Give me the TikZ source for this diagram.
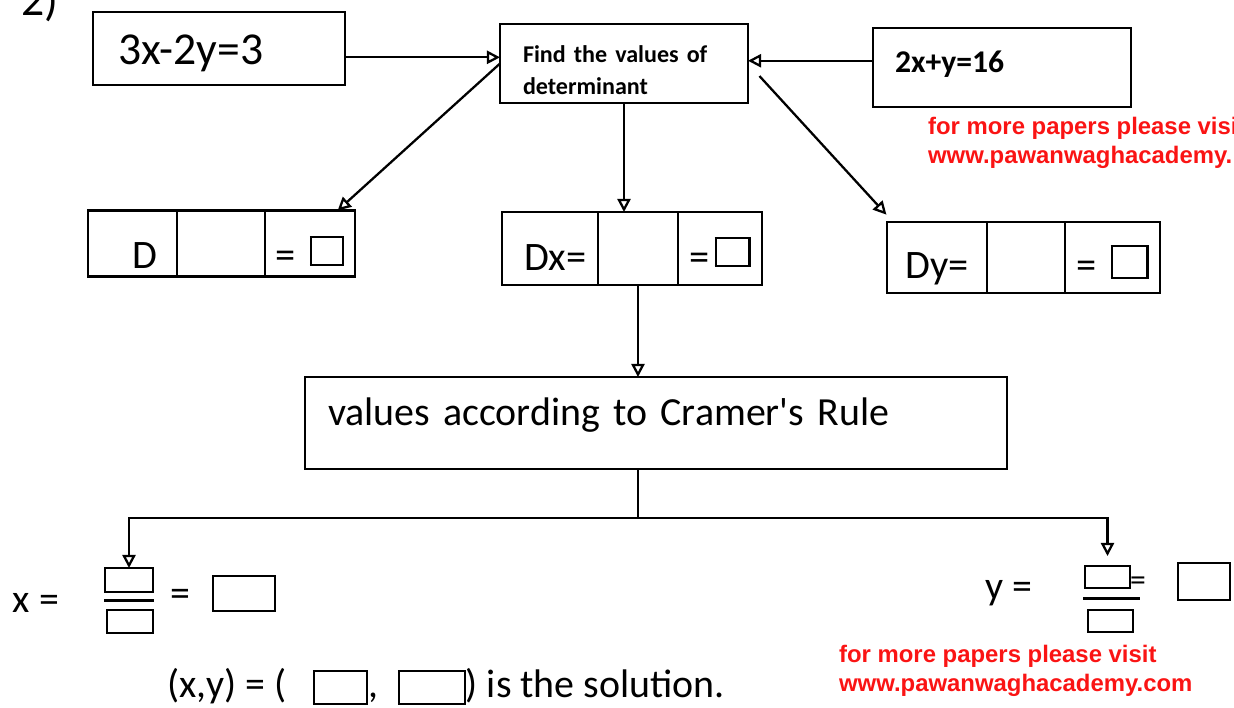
\documentclass[tikz,border=0pt]{standalone}
\usepackage{fontspec}
\setmainfont{Carlito}
\newfontfamily\adfont{Liberation Sans}
\usetikzlibrary{arrows.meta,positioning}
\definecolor{adred}{RGB}{250,20,20}
\newcommand{\ansbox}[2]{{\setlength{\fboxsep}{0pt}\setlength{\fboxrule}{1.3pt}\fbox{\rule{0pt}{#2}\rule{#1}{0pt}}}}

\begin{document}
\begin{tikzpicture}[x=0.02cm,y=-0.02cm,>={Triangle[open,length=7.5pt,width=7.5pt]},line width=1.3pt]
\tikzset{box/.style = {draw,line width=1.5pt,inner ysep=2pt,outer sep=0pt},
         cell/.style = {box,minimum height=#1,text depth=0pt,
                        font=\fontsize{23}{27}\selectfont},
         slot/.style = {box,inner sep=0pt},
         big/.style = {font=\fontsize{22.7}{27}\selectfont},
         ad/.style = {anchor=west,align=left,inner sep=0pt,text=adred,font=\adfont\bfseries\fontsize{13.6}{16.4}\selectfont}}
\useasboundingbox (0,0) rectangle (1234,707);

\node[font=\fontsize{26}{30}\selectfont] (qnum) at (40,2) {2)};

\node[box,minimum width=5.04cm,minimum height=1.46cm,text width=4.04cm,inner xsep=0.5cm,
      text height=18.5pt,text depth=0pt,font=\fontsize{26}{30}\selectfont] (eqA) at (219,48.5) {3x-2y=3};
\node[box,minimum width=4.96cm,minimum height=1.58cm,text width=4.04cm,inner xsep=0.46cm,align=left,
      font=\bfseries\fontsize{13.7}{18}\selectfont] (find) at (624,63.5) {\rule{0pt}{17pt}Find the values of\\determinant};
\node[box,minimum width=5.16cm,minimum height=1.58cm,text width=4.28cm,inner xsep=0.44cm,
      text height=10pt,text depth=4.6pt,font=\bfseries\fontsize{18}{22}\selectfont] (eqB) at (1002,67.5) {2x+y=16};

\node[cell=1.32cm,text height=28pt,minimum width=1.78cm] (dA) at (132.5,243.5) {\hspace{14pt}D};
\node[cell=1.32cm,text height=28pt,minimum width=1.76cm,right=0pt of dA] (dB) {};
\node[cell=1.32cm,text height=28pt,minimum width=1.80cm,right=0pt of dB] (dC) {=\hspace{8pt}\raisebox{2.5pt}{\ansbox{17pt}{14.7pt}}};

\node[cell=1.46cm,text height=25.6pt,minimum width=1.92cm] (xA) at (550,248.5) {\hspace{6pt}Dx=};
\node[cell=1.46cm,text height=25.6pt,minimum width=1.60cm,right=0pt of xA] (xB) {};
\node[cell=1.46cm,text height=25.6pt,minimum width=1.68cm,right=0pt of xB] (xC) {=\hspace{3pt}\raisebox{3.5pt}{\ansbox{18pt}{14.7pt}}};

\node[cell=1.42cm,text height=23.4pt,minimum width=2.00cm] (yA) at (937,257.5) {Dy=};
\node[cell=1.42cm,text height=23.4pt,minimum width=1.56cm,right=0pt of yA] (yB) {};
\node[cell=1.42cm,text height=23.4pt,minimum width=1.90cm,right=0pt of yB] (yC) {=\hspace{8pt}\raisebox{0.5pt}{\ansbox{19pt}{17pt}}};

\node[box,big,minimum width=14.04cm,minimum height=1.84cm,text width=13.12cm,inner xsep=0.46cm,
      text depth=13pt] (cram) at (656,423) {values according to Cramer\textquotesingle s Rule};

\draw[->] (eqA.356) -- (eqA.356 -| find.west);
\draw[->] (eqB.177) -- (eqB.177 -| find.east);
\draw[->] (find.west) -- (dC.50);
\draw[->] (find.south) -- (find.south |- xB.north);
\draw[->,shorten <=0.34cm,shorten >=0.2cm] (find.east) -- (yA.141);
\draw[->] (xB.south) -- (xB.south |- cram.north);

\node[big] (xlbl) at (36,603) {x =};
\node[slot,minimum width=0.96cm,minimum height=0.48cm] (fxTop) at (129,580) {};
\node[slot,minimum width=0.92cm,minimum height=0.46cm] (fxBot) at (130,621.5) {};
\draw[line width=1.7pt] (fxTop.south west) ++(-1,8) -- ++(50,0);
\node[big] (xeq) at (180,598) {=};
\node[slot,minimum width=1.24cm,minimum height=0.70cm] (fxAns) at (244,593.5) {};

\node[big] (ylbl) at (1009,593) {y =};
\node[slot,minimum width=0.90cm,minimum height=0.44cm] (fyTop) at (1107.5,577) {};
\node[inner sep=0pt,font=\fontsize{18}{20}\selectfont] (yeq) at (1138,584) {=};
\draw[line width=1.7pt] (fyTop.south west) ++(-2,10) -- ++(57,0);
\node[slot,minimum width=0.90cm,minimum height=0.44cm] (fyBot) at (1110.5,621) {};
\node[slot,minimum width=1.04cm,minimum height=0.74cm] (fyAns) at (1204,581.5) {};

\draw[->] (cram.south -| xB) -- ++(0,49) -| (fxTop.north);
\draw[->,shorten >=0.2cm] (cram.south -| xB) -- ++(0,49) -| (fyTop.north);

\node[big,anchor=base west,inner sep=0pt] (sol) at (166,697)
  {(x,y) = (\hspace{15pt}\raisebox{-3.4pt}{\ansbox{29pt}{17.6pt}}, \hspace{6pt}\raisebox{-3.4pt}{\ansbox{36pt}{17.6pt}}) is the solution.};

\node[ad] (adTop) at (927,142.5) {for more papers please visi\\www.pawanwaghacademy.};
\node[ad] (adBot) at (838,670.5) {for more papers please visit\\www.pawanwaghacademy.com};
\end{tikzpicture}
\end{document}
